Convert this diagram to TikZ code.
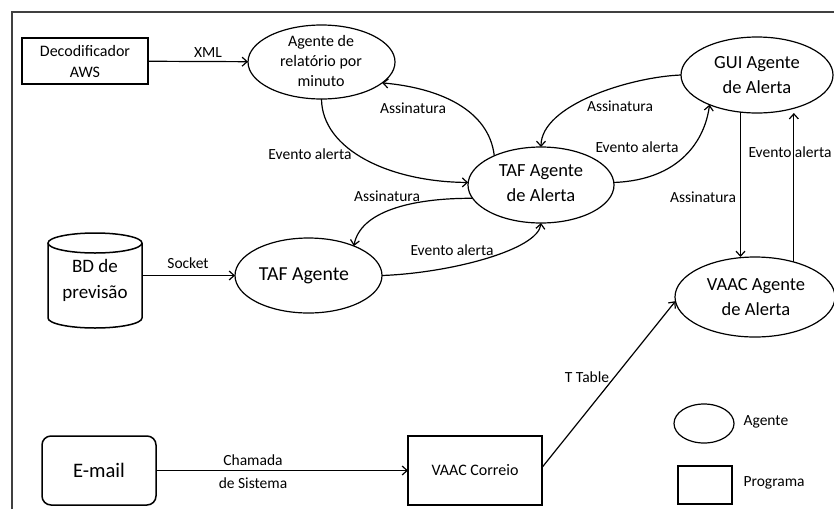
\documentclass[tikz,border=0pt]{standalone}
\usepackage{fontspec}
\setmainfont{Carlito}
\usetikzlibrary{arrows.meta,shapes.geometric,calc}

\begin{document}
\begin{tikzpicture}[x=1pt,y=-1pt,
  line width=1.2pt,
  arr/.style={-{Straight Barb[length=5pt,width=9pt]}, line width=1.2pt},
  agent/.style={ellipse, draw, line width=1.2pt, inner sep=0pt, outer sep=0pt},
  prog/.style={rectangle, draw, line width=1.8pt, inner sep=0pt, outer sep=0pt, align=center,
               font=\fontsize{16}{21}\selectfont},
  agtxt/.style={align=center, inner sep=0pt, font=\fontsize{18.5}{25}\selectfont},
  lbl/.style={inner sep=0pt, font=\fontsize{15.5}{19}\selectfont},
]
\useasboundingbox (0,0) rectangle (834,509);

% outer frame
\draw[line width=1.5pt, black!75] (12,509) -- (12,12) -- (834,12);

% agents (ellipses) and their texts
\node[agent, minimum width=147pt, minimum height=74pt] (rel) at (321.5,62) {};
\node[agtxt, font=\fontsize{16}{20}\selectfont] (relt) at (321,61.5) {Agente de\\relatório por\\minuto};

\node[agent, minimum width=152pt, minimum height=76pt] (gui) at (757,75) {};
\node[agtxt] (guit) at (757,75.5) {GUI Agente\\de Alerta};

\node[agent, minimum width=146pt, minimum height=76pt] (tafa) at (541,185) {};
\node[agtxt] (tafat) at (541,183) {TAF Agente\\de Alerta};

\node[agent, minimum width=147pt, minimum height=75pt] (tafag) at (308.5,275.5) {};
\node[agtxt, font=\fontsize{19.8}{24}\selectfont] (tafagt) at (304,276) {TAF Agente};

\node[agent, minimum width=160pt, minimum height=80pt] (vaac) at (755,297) {};
\node[agtxt] (vaact) at (756,297.5) {VAAC Agente\\de Alerta};

% programs
\node[prog, minimum width=126pt, minimum height=46pt] (dec) at (85,61) {Decodificador\\AWS};
\node[prog, minimum width=134pt, minimum height=69pt] (correio) at (475,470.5) {VAAC Correio};
\node[draw, rounded corners=9pt, line width=1.5pt, inner sep=0pt, outer sep=0pt,
      minimum width=114pt, minimum height=69pt, font=\fontsize{20.6}{24}\selectfont]
      (email) at (99,470.5) {E-mail};

% forecast database (cylinder)
\node[inner sep=0pt, outer sep=0pt, minimum width=94pt, minimum height=95pt, align=center,
      font=\fontsize{19}{26}\selectfont] (bd) at (95,280.5) {BD de\\previsão};
\draw[line width=1.5pt] (48,243) -- (48,318) arc[start angle=180, end angle=0, x radius=47, y radius=10] -- (142,243);
\draw[line width=1.5pt] (95,243) ellipse [x radius=47, y radius=10];

% legend
\node[agent, minimum width=60pt, minimum height=39pt] (legag) at (704,423.5) {};
\node[lbl, anchor=west] (legagt) at (743,422) {Agente};
\node[draw, line width=1.4pt, inner sep=0pt, minimum width=54pt, minimum height=38pt] (legpr) at (705,485) {};
\node[lbl, anchor=west] (legprt) at (743,483) {Programa};

% connectors
\draw[arr] (dec) -- (rel);
\draw[arr] (rel.south) .. controls (322,150) and (390,182) .. (tafa.178);
\draw[arr] (tafa.148) .. controls (489,110) and (440,88) .. (rel.341);
\draw[arr] (gui.180) .. controls (630,77) and (541,105) .. (tafa.north);
\draw[arr] (tafa.2) .. controls (680,180) and (705,140) .. (gui.212);
\draw[arr] (tafa.191) .. controls (410,198) and (360,212) .. (tafag.33);
\draw[arr] (tafag.east) .. controls (450,273) and (538,250) .. (tafa.south);
\draw[arr] (bd.east |- tafag.west) -- (tafag.west);
\draw[arr] (gui.246) -- (gui.246 |- vaac.north);
\draw[arr] (vaac.42) -- (vaac.42 |- gui.south);
\draw[arr] (email) -- (correio);
\draw[arr] ([yshift=3pt]correio.east) -- (vaac.183);

% connector labels
\node[lbl] (l-xml) at (208,53) {XML};
\node[lbl] (l-ev1) at (310,154) {Evento alerta};
\node[lbl] (l-as1) at (413,108) {Assinatura};
\node[lbl] (l-as2) at (620,106) {Assinatura};
\node[lbl] (l-ev2) at (637,147) {Evento alerta};
\node[lbl] (l-as3) at (387,196) {Assinatura};
\node[lbl] (l-ev3) at (452,250) {Evento alerta};
\node[lbl] (l-sock) at (188,263) {Socket};
\node[lbl] (l-as4) at (703,197) {Assinatura};
\node[lbl] (l-ev4) at (790,152) {Evento alerta};
\node[lbl] (l-tt) at (587,377) {T Table};
\node[lbl, align=center, font=\fontsize{15.5}{23}\selectfont] (l-cs) at (253,471.5) {Chamada\\de Sistema};
\end{tikzpicture}
\end{document}
